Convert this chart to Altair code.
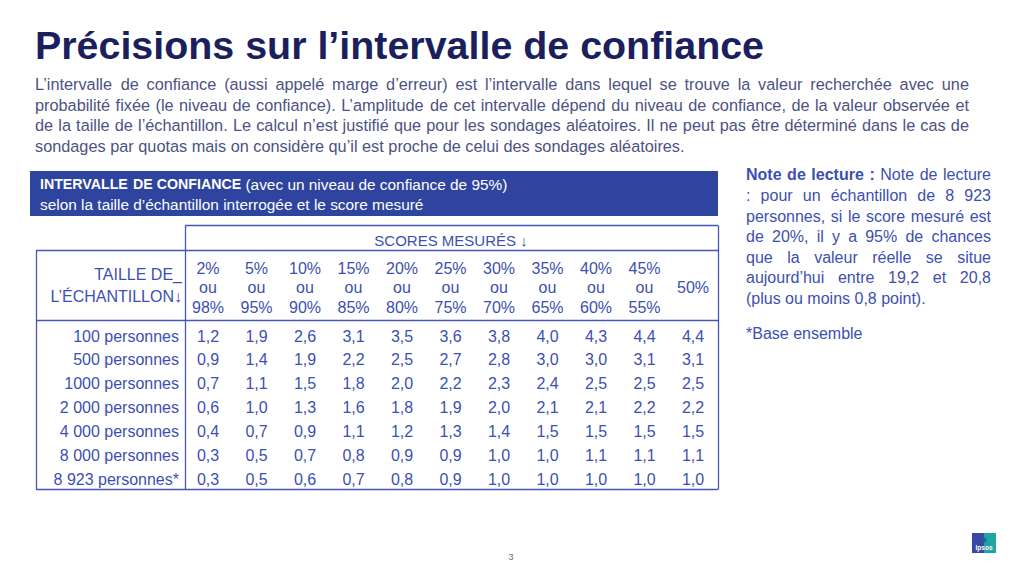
import unicodedata
import altair as alt
import pandas as pd

# ---------------- data ----------------
TITLE = "Précisions sur l’intervalle de confiance"
INTRO_LINES = [
    "L’intervalle de confiance (aussi appelé marge d’erreur) est l’intervalle dans lequel se trouve la valeur recherchée avec une",
    "probabilité fixée (le niveau de confiance). L’amplitude de cet intervalle dépend du niveau de confiance, de la valeur observée et",
    "de la taille de l’échantillon. Le calcul n’est justifié que pour les sondages aléatoires. Il ne peut pas être déterminé dans le cas de",
    "sondages par quotas mais on considère qu’il est proche de celui des sondages aléatoires.",
]
BOX_TITLE_BOLD = "INTERVALLE DE CONFIANCE"
BOX_TITLE_REST = "(avec un niveau de confiance de 95%)"
BOX_SUBTITLE = "selon la taille d’échantillon interrogée et le score mesuré"
SCORES_HEADER = "SCORES MESURÉS ↓"
SIZE_HEADER = ["TAILLE DE_", "L’ÉCHANTILLON↓"]
SCORE_LOW = ["2%", "5%", "10%", "15%", "20%", "25%", "30%", "35%", "40%", "45%"]
SCORE_HIGH = ["98%", "95%", "90%", "85%", "80%", "75%", "70%", "65%", "60%", "55%"]
SCORE_MID = "50%"
SAMPLE_SIZES = ["100 personnes", "500 personnes", "1000 personnes", "2 000 personnes",
                "4 000 personnes", "8 000 personnes", "8 923 personnes*"]
MARGIN_100 = [1.2, 1.9, 2.6, 3.1, 3.5, 3.6, 3.8, 4.0, 4.3, 4.4, 4.4]
MARGIN_500 = [0.9, 1.4, 1.9, 2.2, 2.5, 2.7, 2.8, 3.0, 3.0, 3.1, 3.1]
MARGIN_1000 = [0.7, 1.1, 1.5, 1.8, 2.0, 2.2, 2.3, 2.4, 2.5, 2.5, 2.5]
MARGIN_2000 = [0.6, 1.0, 1.3, 1.6, 1.8, 1.9, 2.0, 2.1, 2.1, 2.2, 2.2]
MARGIN_4000 = [0.4, 0.7, 0.9, 1.1, 1.2, 1.3, 1.4, 1.5, 1.5, 1.5, 1.5]
MARGIN_8000 = [0.3, 0.5, 0.7, 0.8, 0.9, 0.9, 1.0, 1.0, 1.1, 1.1, 1.1]
MARGIN_8923 = [0.3, 0.5, 0.6, 0.7, 0.8, 0.9, 1.0, 1.0, 1.0, 1.0, 1.0]
MARGINS = [MARGIN_100, MARGIN_500, MARGIN_1000, MARGIN_2000, MARGIN_4000, MARGIN_8000, MARGIN_8923]
NOTE_LABEL = "Note de lecture :"
NOTE_LINES = [
    "Note de lecture",
    ": pour un échantillon de 8 923",
    "personnes, si le score mesuré est",
    "de 20%, il y a 95% de chances",
    "que la valeur réelle se situe",
    "aujourd’hui entre 19,2 et 20,8",
    "(plus ou moins 0,8 point).",
]
BASE_NOTE = "*Base ensemble"
PAGE_NUMBER = "3"
LOGO_TEXT = "Ipsos"

# ---------------- styles ----------------
FONT = "Liberation Sans"
NAVY = "#1b1f5e"
GREY_BLUE = "#4c5283"
BLUE = "#3d4fb1"
BOX_BLUE = "#2e449e"
LINE_BLUE = "#4556b3"
W, H = 1008, 560

# approximate advance widths (Liberation Sans / Arial metrics, per 1000 em)
UP = "ABCDEFGHIJKLMNOPQRSTUVWXYZ"
LO = "abcdefghijklmnopqrstuvwxyz"
REG_W = dict(zip(UP, [667, 667, 722, 722, 667, 611, 778, 722, 278, 500, 667, 556, 833,
                      722, 778, 667, 778, 722, 667, 611, 722, 667, 944, 667, 667, 611]))
REG_W.update(zip(LO, [556, 556, 500, 556, 556, 278, 556, 556, 222, 222, 500, 222, 833,
                      556, 556, 556, 556, 333, 500, 278, 556, 500, 722, 500, 500, 500]))
REG_W.update({" ": 278, "!": 278, "%": 889, "'": 191, "’": 222, "(": 333, ")": 333,
              ",": 278, "-": 333, ".": 278, ":": 278, ";": 278, "*": 389, "_": 556})
BOLD_W = dict(zip(UP, [722, 722, 722, 722, 667, 611, 778, 722, 278, 556, 722, 611, 833,
                       722, 778, 667, 778, 722, 667, 611, 722, 667, 944, 667, 667, 611]))
BOLD_W.update(zip(LO, [556, 611, 556, 611, 556, 333, 611, 611, 278, 278, 556, 278, 889,
                       611, 611, 611, 611, 389, 556, 333, 611, 556, 778, 556, 556, 500]))
BOLD_W.update({" ": 278, "!": 333, "%": 889, "'": 238, "’": 278, "(": 333, ")": 333,
               ",": 278, "-": 333, ".": 278, ":": 333, "*": 389, "_": 556})


def text_width(s, size, bold):
    table = BOLD_W if bold else REG_W
    total = 0
    for ch in s:
        base = unicodedata.normalize("NFD", ch)[0]
        total += table.get(base, 556)
    return total * size / 1000.0


def layout(tokens, x0, y, x1=None):
    """tokens: list of (word, bold, size, color); returns word rows (optionally justified)."""
    widths = [text_width(t[0], t[2], t[1]) for t in tokens]
    spaces = [text_width(" ", t[2], False) for t in tokens[1:]]
    extra = 0.0
    if x1 is not None and len(tokens) > 1:
        natural = sum(widths) + sum(spaces)
        extra = (x1 - x0 - natural) / (len(tokens) - 1)
    rows, x = [], x0
    for k, (t, w) in enumerate(zip(tokens, widths)):
        rows.append(dict(word=t[0], bold=t[1], size=t[2], color=t[3], x=x, y=y))
        if k < len(spaces):
            x += w + spaces[k] + extra
    return rows


words = []
# intro paragraph (justified except last line)
INTRO_SIZE = 16.3
intro_y = [77, 97.5, 118, 138.5]
for i, line in enumerate(INTRO_LINES):
    toks = [(w, False, INTRO_SIZE, GREY_BLUE) for w in line.split(" ")]
    words += layout(toks, 27, intro_y[i], 961 if i < len(INTRO_LINES) - 1 else None)

# blue box caption
toks = [(w, True, 14.2, "white") for w in BOX_TITLE_BOLD.split(" ")] + \
       [(w, False, 15.4, "white") for w in BOX_TITLE_REST.split(" ")]
words += layout(toks, 32, 177)
words += layout([(w, False, 15.4, "white") for w in BOX_SUBTITLE.split(" ")], 32, 197)

# reading note (justified except last line)
NOTE_SIZE = 16
note_y = [167, 187.5, 208.5, 229, 249.5, 270, 290.5]
for i, line in enumerate(NOTE_LINES):
    toks = [(w, False, NOTE_SIZE, BLUE) for w in line.split(" ")]
    if i == 0:
        toks = [(w, True, NOTE_SIZE, BLUE) for w in NOTE_LABEL.split(" ")] + toks
    words += layout(toks, 738, note_y[i], 983 if i < len(NOTE_LINES) - 1 else None)
words += layout([(w, False, NOTE_SIZE, BLUE) for w in BASE_NOTE.split(" ")], 738, 326)

words_df = pd.DataFrame(words)


def word_layer(bold):
    return alt.Chart(words_df[words_df["bold"] == bold]).mark_text(
        font=FONT, align="left", baseline="middle", fontWeight="bold" if bold else "normal"
    ).encode(
        x=alt.X("x:Q", scale=None, axis=None),
        y=alt.Y("y:Q", scale=None, axis=None),
        text="word:N",
        size=alt.Size("size:Q", scale=None, legend=None),
        color=alt.Color("color:N", scale=None, legend=None),
    )


one = pd.DataFrame({"k": [0]})

title = alt.Chart(pd.DataFrame({"t": [TITLE]})).mark_text(
    font=FONT, fontWeight="bold", fontSize=39.4, color=NAVY, align="left", baseline="alphabetic"
).encode(text="t:N", x=alt.value(27), y=alt.value(50.5))

box = alt.Chart(one).mark_rect(color=BOX_BLUE).encode(
    x=alt.value(22), x2=alt.value(710), y=alt.value(163), y2=alt.value(208))

# table frame lines
rules = []
for (x0, x1, y0) in [(177, 710, 217.5), (28, 710, 242.5), (28, 710, 312.5), (28, 710, 481.5)]:
    rules.append(alt.Chart(one).mark_rule(color=LINE_BLUE, strokeWidth=1.3).encode(
        x=alt.value(x0), x2=alt.value(x1), y=alt.value(y0)))
for (x0, y0, y1) in [(28.5, 242.5, 481.5), (177.5, 217.5, 481.5), (710.5, 217.5, 481.5)]:
    rules.append(alt.Chart(one).mark_rule(color=LINE_BLUE, strokeWidth=1.3).encode(
        x=alt.value(x0), y=alt.value(y0), y2=alt.value(y1)))

# table content through point scales
COLS = SCORE_LOW + [SCORE_MID]
xscale = alt.Scale(type="point", domain=COLS, range=[200, 685], padding=0)
yscale = alt.Scale(type="point", domain=SAMPLE_SIZES, range=[328.5, 471.5], padding=0)

cells = pd.DataFrame([
    {"row": SAMPLE_SIZES[i], "col": COLS[j], "v": MARGINS[i][j]}
    for i in range(len(SAMPLE_SIZES)) for j in range(len(COLS))
])
TABLE_SIZE = 16

cell_layer = alt.Chart(cells).transform_calculate(
    label="replace(format(datum.v, '.1f'), '.', ',')"
).mark_text(font=FONT, fontSize=TABLE_SIZE, color=BLUE, baseline="middle").encode(
    x=alt.X("col:N", scale=xscale, axis=None),
    y=alt.Y("row:N", scale=yscale, axis=None),
    text="label:N",
)

row_labels = alt.Chart(pd.DataFrame({"row": SAMPLE_SIZES})).mark_text(
    font=FONT, fontSize=TABLE_SIZE, color=BLUE, baseline="middle", align="right"
).encode(x=alt.value(171), y=alt.Y("row:N", scale=yscale, axis=None), text="row:N")

hdr = pd.DataFrame({"col": SCORE_LOW, "low": SCORE_LOW, "high": SCORE_HIGH, "ou": ["ou"] * len(SCORE_LOW)})


def header_row(field, yv, df=hdr):
    return alt.Chart(df).mark_text(
        font=FONT, fontSize=TABLE_SIZE, color=BLUE, baseline="middle"
    ).encode(x=alt.X("col:N", scale=xscale, axis=None), y=alt.value(yv), text=f"{field}:N")


hdr_low = header_row("low", 260.5)
hdr_ou = header_row("ou", 279.5)
hdr_high = header_row("high", 299.5)
hdr_mid = header_row("col", 279.5, pd.DataFrame({"col": [SCORE_MID]}))

scores_header = alt.Chart(pd.DataFrame({"t": [SCORES_HEADER]})).mark_text(
    font=FONT, fontSize=15, color=BLUE, baseline="middle", align="center"
).encode(text="t:N", x=alt.value(443), y=alt.value(233))

size_header = alt.Chart(pd.DataFrame({"t": SIZE_HEADER, "i": [0, 1]})).mark_text(
    font=FONT, fontSize=TABLE_SIZE, color=BLUE, baseline="middle", align="right"
).encode(
    text="t:N",
    x=alt.value(174),
    y=alt.Y("i:Q", scale=alt.Scale(domain=[0, 1], range=[267, 289]), axis=None),
)

# footer: page number + logo
page_no = alt.Chart(pd.DataFrame({"t": [PAGE_NUMBER]})).mark_text(
    font=FONT, fontSize=9, color="#6b6b6b", baseline="middle"
).encode(text="t:N", x=alt.value(503), y=alt.value(549))
logo_left = alt.Chart(one).mark_rect(color="#3a47a5").encode(
    x=alt.value(964), x2=alt.value(976), y=alt.value(525), y2=alt.value(545))
logo_right = alt.Chart(one).mark_rect(color="#1fa6a3").encode(
    x=alt.value(976), x2=alt.value(988), y=alt.value(525), y2=alt.value(545))
logo_head = alt.Chart(one).mark_point(filled=True, color="#0f6d88", size=28, opacity=0.8).encode(
    x=alt.value(976), y=alt.value(532))
logo_text = alt.Chart(pd.DataFrame({"t": [LOGO_TEXT]})).mark_text(
    font=FONT, fontSize=6.5, fontWeight="bold", color="white", baseline="middle"
).encode(text="t:N", x=alt.value(976), y=alt.value(540))

chart = alt.layer(
    box, *rules, title, word_layer(False), word_layer(True),
    cell_layer, row_labels, hdr_low, hdr_ou, hdr_high, hdr_mid, scores_header, size_header,
    page_no, logo_left, logo_right, logo_head, logo_text,
).resolve_scale(
    x="independent", y="independent", color="independent", size="independent"
).properties(
    width=W, height=H, padding=0, autosize=alt.AutoSizeParams(type="none"),
    background="white",
).configure_view(stroke=None)

chart.save("out.html", embed_options={"renderer": "svg", "actions": False})
